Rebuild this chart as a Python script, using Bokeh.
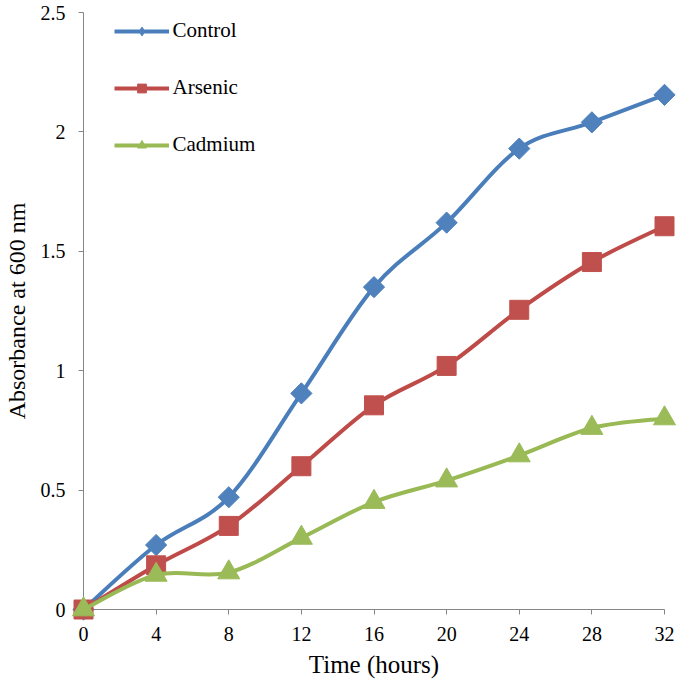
import math
from bokeh.plotting import figure
from bokeh.models import Range1d, FixedTicker, Legend, LegendItem, Label
from bokeh.embed import file_html
from bokeh.resources import INLINE

hours = [0, 4, 8, 12, 16, 20, 24, 28, 32]
control = [0, 0.27, 0.47, 0.905, 1.35, 1.62, 1.93, 2.04, 2.155]
arsenic = [0, 0.185, 0.35, 0.60, 0.855, 1.02, 1.255, 1.455, 1.605]
cadmium = [0, 0.145, 0.155, 0.30, 0.45, 0.54, 0.645, 0.76, 0.80]
x_ticks = [0, 4, 8, 12, 16, 20, 24, 28, 32]
y_ticks = [0, 0.5, 1, 1.5, 2, 2.5]
y_tick_labels = ["0", "0.5", "1", "1.5", "2", "2.5"]

FONT = "Liberation Serif"

p = figure(width=676, height=680, output_backend="svg", toolbar_location=None,
           x_range=Range1d(0, 32), y_range=Range1d(0, 2.5),
           min_border_left=81, min_border_top=12, min_border_right=12, min_border_bottom=70)
p.outline_line_color = None
p.grid.visible = False
p.background_fill_color = "white"
p.border_fill_color = "white"


def smooth(xs, ys):
    n = len(xs)
    x0, y0, x1, y1, cx0, cy0, cx1, cy1 = [], [], [], [], [], [], [], []
    for i in range(n - 1):
        a = i - 1 if i > 0 else i
        d = i + 2 if i + 2 < n else i + 1
        x0.append(xs[i]); y0.append(ys[i])
        x1.append(xs[i + 1]); y1.append(ys[i + 1])
        cx0.append(xs[i] + (xs[i + 1] - xs[a]) / 6)
        cy0.append(ys[i] + (ys[i + 1] - ys[a]) / 6)
        cx1.append(xs[i + 1] - (xs[d] - xs[i]) / 6)
        cy1.append(ys[i + 1] - (ys[d] - ys[i]) / 6)
    return dict(x0=x0, y0=y0, x1=x1, y1=y1, cx0=cx0, cy0=cy0, cx1=cx1, cy1=cy1)


series = [
    ("Control", control, "#4A7EBB", "#4F81BD", "square", 15, math.pi / 4, "diamond"),
    ("Arsenic", arsenic, "#BE4B48", "#C0504D", "square", 19, 0, "square"),
    ("Cadmium", cadmium, "#98B954", "#9BBB59", "triangle", 22, 0, "triangle"),
]

items = []
for name, ys, lc, fc, marker, size, ang, lmarker in series:
    s = smooth(hours, ys)
    cr = p.bezier(x0=s["x0"], y0=s["y0"], x1=s["x1"], y1=s["y1"],
                  cx0=s["cx0"], cy0=s["cy0"], cx1=s["cx1"], cy1=s["cy1"],
                  line_color=lc, line_width=4, level="overlay")
    mr = p.scatter(hours, ys, marker=marker, size=size, angle=ang,
                   fill_color=fc, line_color=fc, level="overlay")
    lr = p.scatter(hours, ys, marker=lmarker, size=size, fill_color=fc, line_color=fc,
                   visible=False)
    items.append(LegendItem(label=name, renderers=[cr, lr]))

legend = Legend(items=items, location=(31, 453), padding=0, margin=0,
                border_line_alpha=0, background_fill_alpha=0,
                glyph_width=55, glyph_height=22, label_height=22, spacing=35,
                label_standoff=6, inactive_fill_alpha=0)
legend.label_text_font_size = "8px"
legend.label_text_alpha = 0
p.add_layout(legend)

label_y = [580, 523, 466]
for (name, *_), ly in zip(series, label_y):
    p.add_layout(Label(x=89, y=ly, x_units="screen", y_units="screen", text=name,
                       text_font=FONT, text_font_size="21px", text_color="black",
                       text_baseline="alphabetic", text_align="left"))

for ax in (p.xaxis[0], p.yaxis[0]):
    ax.axis_line_color = "#868686"
    ax.axis_line_width = 1
    ax.major_tick_line_color = "#868686"
    ax.major_tick_in = 0
    ax.major_tick_out = 5
    ax.minor_tick_line_color = None
    ax.major_label_text_font = FONT
    ax.major_label_text_font_size = "20px"
    ax.major_label_text_color = "black"
    ax.axis_label_text_font = FONT
    ax.axis_label_text_font_style = "normal"
    ax.axis_label_text_color = "black"

p.xaxis.ticker = FixedTicker(ticks=x_ticks)
p.yaxis.ticker = FixedTicker(ticks=y_ticks)
p.yaxis.major_label_overrides = {t: l for t, l in zip(y_ticks, y_tick_labels)}
p.xaxis.major_label_standoff = 12
p.yaxis.major_label_standoff = 13
p.xaxis.axis_label = "Time (hours)"
p.yaxis.axis_label = "Absorbance at 600 nm"
p.xaxis.axis_label_text_font_size = "25px"
p.yaxis.axis_label_text_font_size = "24px"
p.xaxis.axis_label_standoff = 7
p.yaxis.axis_label_standoff = 8

open("out.html", "w").write(file_html(p, INLINE))
